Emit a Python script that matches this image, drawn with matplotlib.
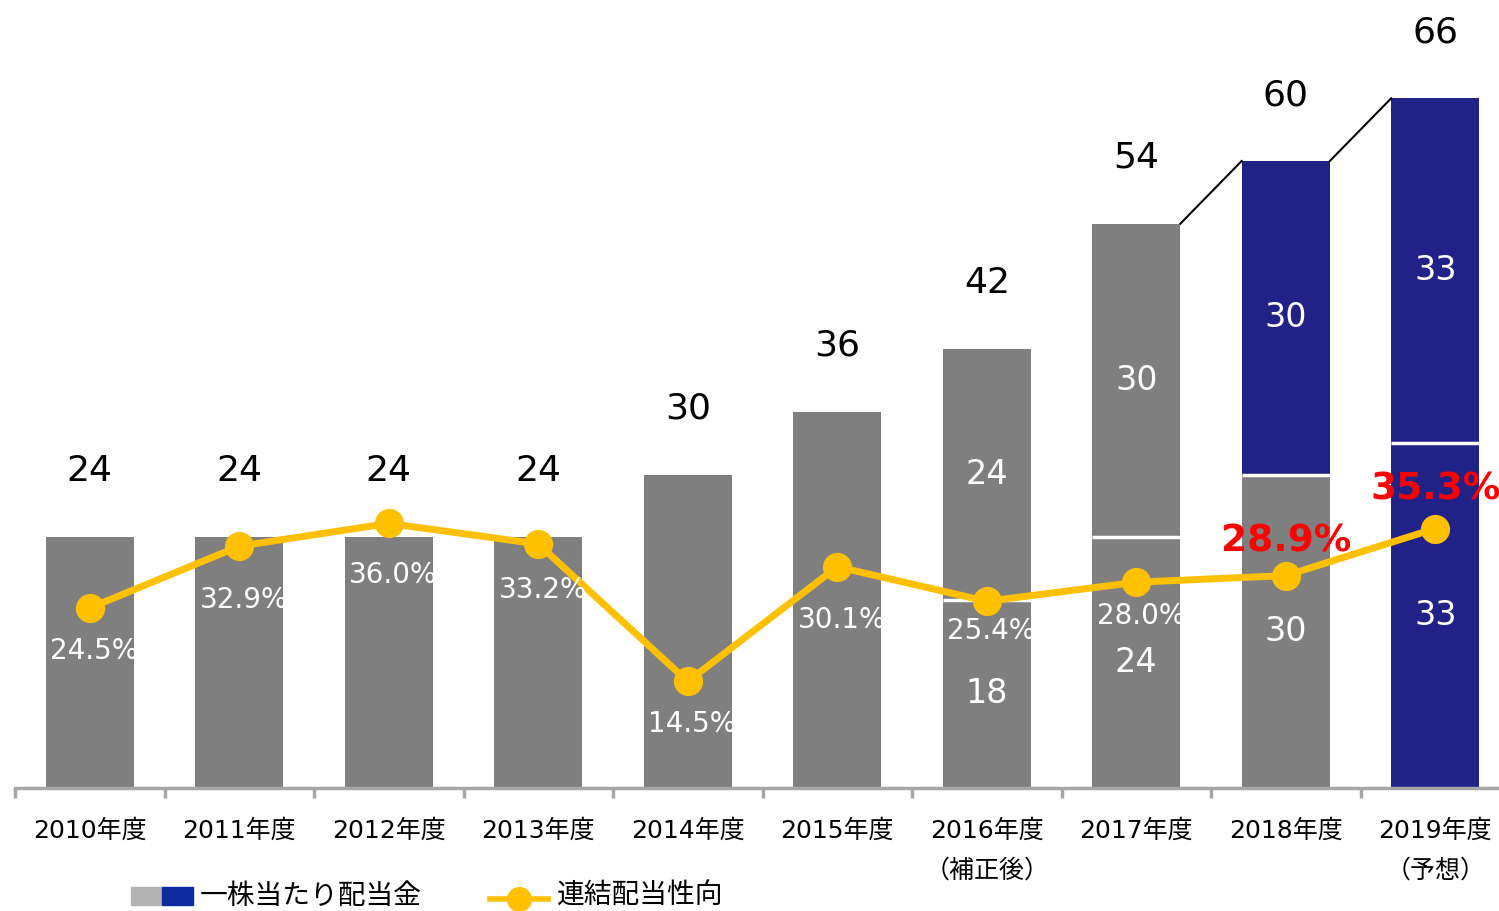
import matplotlib
matplotlib.use("Agg")
import matplotlib.pyplot as plt
from matplotlib.lines import Line2D
from matplotlib.patches import Rectangle
import numpy as np

plt.rcParams['font.family'] = ['DejaVu Sans', 'Noto Sans CJK JP']

# data
years = ['2010年度', '2011年度', '2012年度', '2013年度', '2014年度',
         '2015年度', '2016年度\n（補正後）', '2017年度', '2018年度', '2019年度\n（予想）']
lower = [24, 24, 24, 24, 30, 36, 18, 24, 30, 33]      # first part of dividend
upper = [0, 0, 0, 0, 0, 0, 24, 30, 30, 33]            # second part
upper_is_blue = [False] * 8 + [True, True]
lower_is_blue = [False] * 9 + [True]
totals = [a + b for a, b in zip(lower, upper)]
payout = [24.5, 32.9, 36.0, 33.2, 14.5, 30.1, 25.4, 28.0, 28.9, 35.3]
payout_red = [False] * 8 + [True, True]
payout_offset = [-5.8, -7.3, -7.0, -6.3, -5.8, -7.2, -4.0, -4.6, 4.7, 5.3]

GRAY = '#7f7f7f'
NAVY = '#212287'
GOLD = '#ffc000'

fig = plt.figure(figsize=(14.99, 9.11), dpi=100)
ax = fig.add_axes([15 / 1499, 1 - 788 / 911, 1482 / 1499, 788 / 911])
ax2 = ax.twinx()

x = np.arange(len(years))
w = 0.59

low_colors = [NAVY if b else GRAY for b in lower_is_blue]
up_colors = [NAVY if b else GRAY for b in upper_is_blue]
ax.bar(x, lower, w, color=low_colors, zorder=2)
ax.bar(x, upper, w, bottom=lower, color=up_colors, zorder=2)

for i in range(len(x)):
    if upper[i] > 0:
        # white divider between the two parts
        ax.plot([x[i] - w / 2, x[i] + w / 2], [lower[i], lower[i]],
                color='white', lw=2.5, zorder=3, solid_capstyle='butt')
        ax.text(x[i], lower[i] / 2, str(lower[i]), ha='center', va='center',
                color='white', fontsize=24, zorder=5)
        ax.text(x[i], lower[i] + upper[i] / 2, str(upper[i]), ha='center',
                va='center', color='white', fontsize=24, zorder=5)
    ax.text(x[i], totals[i] + 6.3, str(totals[i]), ha='center', va='center',
            color='black', fontsize=26)

# diagonal connectors between 2017-2019
for i in range(7, 9):
    ax.plot([x[i] + w / 2, x[i + 1] - w / 2], [totals[i], totals[i + 1]],
            color='black', lw=1.5)

px_per_unit = 10.45
ax.set_ylim(0, 788 / px_per_unit)
ax.set_xlim(-0.5, -0.5 + 1482 / 149.5)

ax2.plot(x, payout, color=GOLD, lw=5, marker='o', markersize=20, zorder=6)
ax2.set_ylim(0, 788 / 7.35)
for i in range(len(x)):
    if payout_red[i]:
        ax2.text(x[i], payout[i] + payout_offset[i], f'{payout[i]:.1f}%',
                 ha='center', va='center', color='#ff0000', fontsize=27,
                 fontweight='bold', zorder=7)
    else:
        ax2.text(x[i] + 0.03, payout[i] + payout_offset[i], f'{payout[i]:.1f}%',
                 ha='center', va='center', color='white', fontsize=20, zorder=7)

for a in (ax, ax2):
    for s in ['top', 'right', 'left']:
        a.spines[s].set_visible(False)
    a.set_yticks([])
ax2.spines['bottom'].set_visible(False)
ax.spines['bottom'].set_color('#a6a6a6')
ax.spines['bottom'].set_linewidth(2.5)

ax.set_xticks(x)
ax.set_xticklabels(years, fontsize=18, linespacing=1.85, va='top')
ax.tick_params(axis='x', which='major', length=0, pad=22)
ax.set_xticks(np.r_[-0.5, x[:-1] + 0.5], minor=True)
ax.tick_params(axis='x', which='minor', length=7, width=2.5, color='#a6a6a6')

# legend drawn in figure coordinates
fig.patches.append(Rectangle((131 / 1499, 1 - 905 / 911), 31 / 1499, 18 / 911,
                             transform=fig.transFigure, color='#b3b3b3'))
fig.patches.append(Rectangle((162 / 1499, 1 - 905 / 911), 31 / 1499, 18 / 911,
                             transform=fig.transFigure, color='#0d2a9e'))
fig.text(200 / 1499, 1 - 896 / 911, '一株当たり配当金', fontsize=20,
         va='center', ha='left', family=['Noto Sans CJK JP'])
fig.lines.append(Line2D([490 / 1499, 548 / 1499], [1 - 899 / 911] * 2,
                        transform=fig.transFigure, color=GOLD, lw=4))
fig.lines.append(Line2D([519 / 1499], [1 - 899 / 911], marker='o',
                        markersize=17, color=GOLD, transform=fig.transFigure))
fig.text(557 / 1499, 1 - 896 / 911, '連結配当性向', fontsize=20,
         va='center', ha='left', family=['Noto Sans CJK JP'])

fig.savefig('out.png', dpi=100)
